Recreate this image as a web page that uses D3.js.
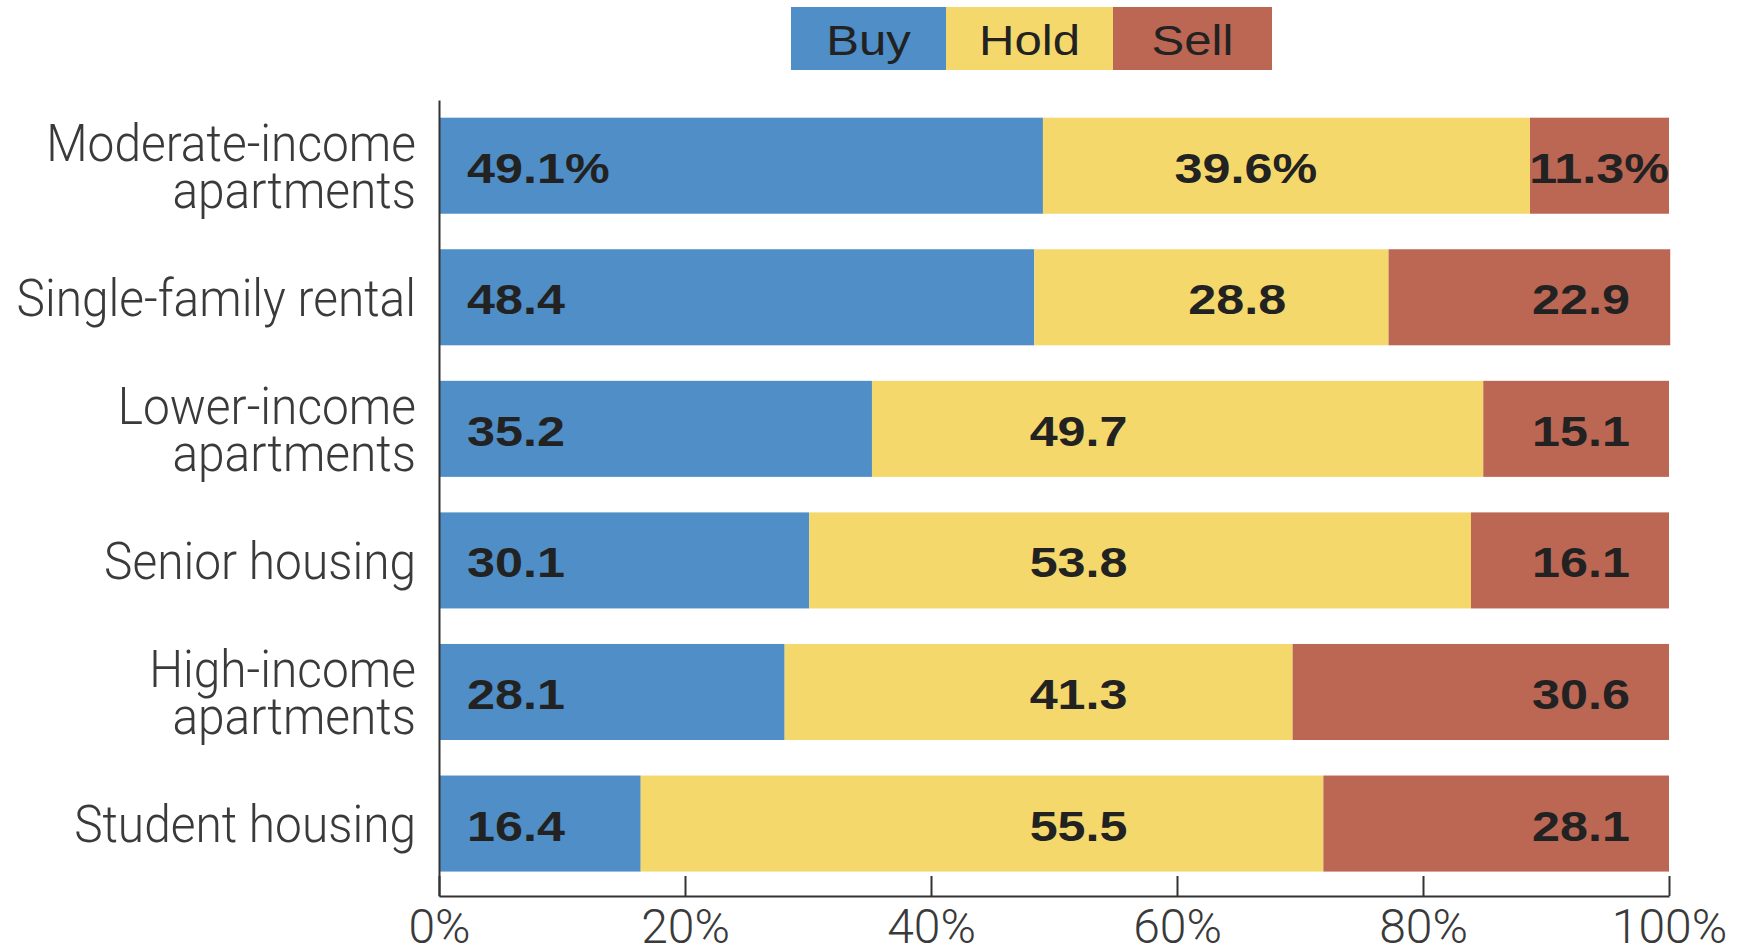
<!DOCTYPE html>
<html>
<head>
<meta charset="utf-8">
<script src="https://cdn.jsdelivr.net/npm/d3@7"></script>
<style>
  html, body { margin: 0; padding: 0; background: #ffffff; }
  svg { display: block; }
</style>
</head>
<body>
<svg id="chart" width="1743" height="952"></svg>
<script>
// Investor sentiment by rental property type (share of respondents, %)
const categories = [
  ["Moderate-income", "apartments"],
  ["Single-family rental"],
  ["Lower-income", "apartments"],
  ["Senior housing"],
  ["High-income", "apartments"],
  ["Student housing"]
];
const seriesNames = ["Buy", "Hold", "Sell"];
const buyValues  = [49.1, 48.4, 35.2, 30.1, 28.1, 16.4];
const holdValues = [39.6, 28.8, 49.7, 53.8, 41.3, 55.5];
const sellValues = [11.3, 22.9, 15.1, 16.1, 30.6, 28.1];
const tickValues = [0, 20, 40, 60, 80, 100];

const colors = { Buy: "#4f8ec6", Hold: "#f4d86c", Sell: "#bc6654" };
const legendCellWidths = [155, 167, 159];

const rows = categories.map((lines, i) => ({
  key: i,
  lines,
  Buy: buyValues[i],
  Hold: holdValues[i],
  Sell: sellValues[i]
}));

const svg = d3.select("#chart");
const plot = { left: 439, right: 1669, top: 100, bottom: 896 };

const x = d3.scaleLinear().domain([0, 100]).range([plot.left, plot.right]);
const y = d3.scaleBand()
  .domain(rows.map(d => d.key))
  .range([plot.top, plot.bottom])
  .paddingInner(0.27)
  .paddingOuter(0.16)
  .align(0.42);

const stacked = d3.stack().keys(seriesNames)(rows);

// Stacked bars
const layers = svg.append("g").selectAll("g")
  .data(stacked)
  .join("g")
  .attr("fill", s => colors[s.key]);

layers.selectAll("rect")
  .data(s => s.map(d => ({ d, key: s.key })))
  .join("rect")
  .attr("x", p => x(p.d[0]))
  .attr("y", p => y(p.d.data.key))
  .attr("width", p => x(p.d[1]) - x(p.d[0]))
  .attr("height", y.bandwidth());

// Value labels inside the segments
const STRETCH = 1.17;
const fmt = (v, i) => v.toFixed(1) + (i === 0 ? "%" : "");
const labelG = svg.append("g")
  .attr("font-family", "'Liberation Sans', Arial, sans-serif")
  .attr("font-weight", "bold")
  .attr("font-size", 43)
  .attr("fill", "#222");

function valueLabel(px, py, anchor, text) {
  return labelG.append("text")
    .attr("transform", `translate(${px},${py}) scale(${STRETCH},1)`)
    .attr("text-anchor", anchor)
    .text(text);
}

rows.forEach((r, i) => {
  const cy = y(r.key) + y.bandwidth() / 2 + 17;
  // Buy: left-aligned near the axis
  valueLabel(x(0) + 28, cy, "start", fmt(r.Buy, i));
  // Hold: centered, but kept to the right of the Buy segment
  const holdPct = Math.max(52, r.Buy + 16.5);
  valueLabel(x(holdPct), cy, "middle", fmt(r.Hold, i));
  // Sell: right-aligned, pushed right if it would spill out of its segment
  const t = valueLabel(0, cy, "end", fmt(r.Sell, i));
  const w = t.node().getComputedTextLength() * STRETCH;
  const segStart = x(r.Buy + r.Hold);
  let right = x(100) - 39;
  if (right - w < segStart) right = Math.min(segStart + w, x(100));
  t.attr("transform", `translate(${right},${cy}) scale(${STRETCH},1)`);
});

// Axes
const axisColor = "#333";
const xAxis = svg.append("g")
  .attr("transform", `translate(0,${plot.bottom})`)
  .call(d3.axisBottom(x)
    .tickValues(tickValues)
    .tickFormat(d => d + "%")
    .tickSizeInner(-20)
    .tickSizeOuter(0)
    .tickPadding(13));
xAxis.select(".domain").attr("stroke", axisColor).attr("stroke-width", 2);
xAxis.selectAll(".tick line").attr("stroke", axisColor).attr("stroke-width", 2);
xAxis.selectAll(".tick text")
  .attr("font-family", "Roboto, 'Liberation Sans', sans-serif")
  .attr("font-weight", 300)
  .attr("font-size", 48)
  .attr("fill", "#3a3a3a")
  .attr("y", 47)
  .attr("dy", 0);

const yAxis = svg.append("g")
  .attr("transform", `translate(${plot.left},0)`)
  .call(d3.axisLeft(y).tickSize(0).tickFormat(""));
yAxis.select(".domain").attr("stroke", axisColor).attr("stroke-width", 2);

// Category labels (one or two lines, right-aligned to the axis)
const CAT_SCALE = 0.92;
const catG = svg.append("g")
  .attr("font-family", "Roboto, 'Liberation Sans', sans-serif")
  .attr("font-weight", 300)
  .attr("font-size", 52)
  .attr("fill", "#3a3a3a");

rows.forEach(r => {
  const cy = y(r.key) + y.bandwidth() / 2;
  const n = r.lines.length;
  const lineGap = 47;
  r.lines.forEach((line, j) => {
    const by = cy + 18.5 + (j - (n - 1) / 2) * lineGap;
    catG.append("text")
      .attr("transform", `translate(${plot.left - 23},${by}) scale(${CAT_SCALE},1)`)
      .attr("text-anchor", "end")
      .text(line);
  });
});

// Legend: contiguous coloured boxes with the series name inside
const legend = svg.append("g").attr("transform", "translate(791,7)");
const legendH = 63;
let lx = 0;
seriesNames.forEach((name, i) => {
  const bw = legendCellWidths[i];
  const g = legend.append("g").attr("transform", `translate(${lx},0)`);
  g.append("rect").attr("width", bw).attr("height", legendH).attr("fill", colors[name]);
  g.append("text")
    .attr("font-family", "'Liberation Sans', Arial, sans-serif")
    .attr("font-size", 42)
    .attr("fill", "#222")
    .attr("text-anchor", "middle")
    .attr("transform", `translate(${bw / 2},48) scale(${STRETCH},1)`)
    .text(name);
  lx += bw;
});
</script>
</body>
</html>
